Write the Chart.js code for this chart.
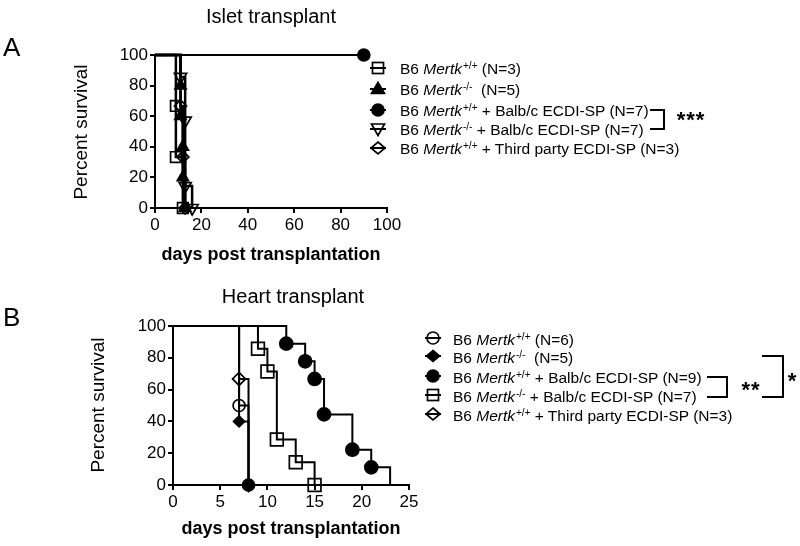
<!DOCTYPE html>
<html>
<head>
<meta charset="utf-8">
<script src="https://cdn.jsdelivr.net/npm/chart.js@4.4.1/dist/chart.umd.min.js"></script>
<style>
html,body{margin:0;padding:0;background:#fff;}
body{width:800px;height:546px;position:relative;overflow:hidden;font-family:"Liberation Sans",Arial,Helvetica,sans-serif;color:#000;}
.t{position:absolute;white-space:nowrap;}
canvas{position:absolute;}
sup.s{font-size:10px;vertical-align:0;position:relative;top:-5px;margin-left:1px;}
#ov{position:absolute;left:0;top:0;}
</style>
</head>
<body>
<canvas id="chartA" width="420" height="245" style="left:0;top:0"></canvas>
<canvas id="chartB" width="440" height="240" style="left:0;top:280px"></canvas>
<svg id="ov" width="800" height="546"></svg>
<div id="texts"></div>
<script>
// ---------- DATA ----------
const survTicks = [0, 20, 40, 60, 80, 100];
const isletDayTicks = [0, 20, 40, 60, 80, 100];
const heartDayTicks = [0, 5, 10, 15, 20, 25];

// Islet transplant (days, percent survival)
const isletWTDays = [0, 9, 9, 12];
const isletWTSurv = [100, 66.7, 33.3, 0];
const isletKODays = [0, 11, 11, 12, 12, 13];
const isletKOSurv = [100, 80, 60, 40, 20, 0];
const isletWTBalbDays = [0, 90];
const isletWTBalbSurv = [100, 100];
const isletKOBalbDays = [0, 11, 13, 13, 16];
const isletKOBalbSurv = [100, 85.7, 57.1, 14.3, 0];
const isletThirdDays = [0, 11, 12, 13];
const isletThirdSurv = [100, 66.7, 33.3, 0];

// Heart transplant
const heartWTDays = [0, 7, 8];
const heartWTSurv = [100, 50, 0];
const heartKODays = [0, 7, 8];
const heartKOSurv = [100, 40, 0];
const heartWTBalbDays = [0, 12, 14, 15, 16, 19, 21, 23];
const heartWTBalbSurv = [100, 88.9, 77.8, 66.7, 44.4, 22.2, 11.1, 0];
const heartKOBalbDays = [0, 9, 10, 11, 13, 15];
const heartKOBalbSurv = [100, 85.7, 71.4, 28.6, 14.3, 0];
const heartThirdDays = [0, 7, 8];
const heartThirdSurv = [100, 66.7, 0];

// ---------- CHARTS ----------
const FONT = '"Liberation Sans", Arial, Helvetica, sans-serif';
Chart.defaults.font.family = FONT;

function series(days, surv, st) {
  return {
    data: days.map((d, i) => ({x: d, y: surv[i]})),
    stepped: 'before',
    borderColor: '#000',
    borderWidth: st.lw || 2,
    fill: false,
    clip: false,
    pointStyle: st.style,
    rotation: st.rot || 0,
    pointRadius: days.map((d, i) => (i === 0 || (st.hideLast && i === days.length - 1)) ? 0 : st.r),
    pointHoverRadius: days.map((d, i) => (i === 0 || (st.hideLast && i === days.length - 1)) ? 0 : st.r),
    pointBackgroundColor: st.filled ? '#000' : 'rgba(0,0,0,0)',
    pointBorderColor: '#000',
    pointBorderWidth: 1.7
  };
}

function axis(min, max, tickArr, fitKey, fitVal, pad) {
  return {
    type: 'linear', min: min, max: max,
    afterBuildTicks: s => { s.ticks = tickArr.map(v => ({value: v})); },
    ticks: {color: '#000', font: {size: 17, family: FONT}, padding: pad, autoSkip: false, maxRotation: 0, minRotation: 0},
    grid: {display: true, drawOnChartArea: false, drawTicks: true, tickLength: 5, tickWidth: 2, tickColor: '#000', color: '#000', lineWidth: 2},
    border: {display: true, color: '#000', width: 2},
    afterFit: s => { s[fitKey] = fitVal; }
  };
}

function makeChart(id, datasets, xTicks, xMax, yWidth, xHeight, padTop, padRight) {
  return new Chart(document.getElementById(id), {
    type: 'line',
    data: {datasets: datasets},
    options: {
      responsive: false, animation: false, devicePixelRatio: 1,
      layout: {padding: {top: padTop, right: padRight, bottom: 0, left: 0}},
      plugins: {legend: {display: false}, tooltip: {enabled: false}},
      events: [],
      scales: {
        x: axis(0, xMax, xTicks, 'height', xHeight, 2),
        y: axis(0, 100, survTicks, 'width', yWidth, 2)
      }
    }
  });
}

makeChart('chartA', [
  series(isletWTDays, isletWTSurv, {style: 'rect', r: 7.5, lw: 2.5}),
  series(isletKODays, isletKOSurv, {style: 'triangle', r: 6.5, filled: true, lw: 2.5}),
  series(isletWTBalbDays, isletWTBalbSurv, {style: 'circle', r: 6, filled: true}),
  series(isletKOBalbDays, isletKOBalbSurv, {style: 'triangle', r: 7, rot: 180, lw: 2.5}),
  series(isletThirdDays, isletThirdSurv, {style: 'rectRot', r: 6, lw: 2.5})
], isletDayTicks, 100, 155, 37, 55, 33);

makeChart('chartB', [
  series(heartWTDays, heartWTSurv, {style: 'circle', r: 6}),
  series(heartKODays, heartKOSurv, {style: 'rectRot', r: 5.5, filled: true}),
  series(heartWTBalbDays, heartWTBalbSurv, {style: 'circle', r: 6.5, filled: true, hideLast: true}),
  series(heartKOBalbDays, heartKOBalbSurv, {style: 'rect', r: 9}),
  series(heartThirdDays, heartThirdSurv, {style: 'rectRot', r: 6.5})
], heartDayTicks, 25, 173, 35, 46, 31);

// ---------- TEXT ----------
const texts = document.getElementById('texts');
function txt(html, cx, cy, size, opts) {
  opts = opts || {};
  const d = document.createElement('div');
  d.className = 't';
  d.innerHTML = html;
  d.style.fontSize = size + 'px';
  d.style.lineHeight = size + 'px';
  if (opts.bold) d.style.fontWeight = 'bold';
  if (opts.ls) d.style.letterSpacing = opts.ls + 'px';
  d.style.left = cx + 'px';
  d.style.top = cy + 'px';
  let tr = opts.left ? 'translate(0,-50%)' : 'translate(-50%,-50%)';
  if (opts.rot) tr += ' rotate(-90deg)';
  d.style.transform = tr;
  texts.appendChild(d);
}
txt('A', 3, 47, 26, {left: true});
txt('B', 3, 317, 26, {left: true});
txt('Islet transplant', 271, 16, 20);
txt('Heart transplant', 293, 296, 20);
txt('Percent survival', 80, 132, 19, {rot: true});
txt('Percent survival', 97, 405, 19, {rot: true});
txt('days post transplantation', 271, 254, 18, {bold: true});
txt('days post transplantation', 291, 528, 18, {bold: true});

const WT = 'B6 <i>Mertk</i><sup class="s">+/+</sup>';
const KO = 'B6 <i>Mertk</i><sup class="s">-/-</sup>';
const legA = [WT + ' (N=3)', KO + '&nbsp; (N=5)', WT + ' + Balb/c ECDI-SP (N=7)', KO + ' + Balb/c ECDI-SP (N=7)', WT + ' + Third party ECDI-SP (N=3)'];
const legARows = [69, 90, 111, 130, 149];
const legB = [WT + ' (N=6)', KO + '&nbsp; (N=5)', WT + ' + Balb/c ECDI-SP (N=9)', KO + ' + Balb/c ECDI-SP (N=7)', WT + ' + Third party ECDI-SP (N=3)'];
const legBRows = [340, 358, 378, 397, 416];
legA.forEach((h, i) => txt(h, 400, legARows[i] + 1, 15.5, {left: true}));
legB.forEach((h, i) => txt(h, 453, legBRows[i] + 1, 15.5, {left: true}));

txt('***', 691, 120, 22, {bold: true, ls: 1});
txt('**', 751, 390, 22, {bold: true, ls: 1});
txt('*', 792, 381, 22, {bold: true});

// ---------- LEGEND SYMBOLS & BRACKETS ----------
const ov = document.getElementById('ov');
let svg = '';
function sym(kind, cx, cy) {
  let s = `<line x1="${cx - 8}" y1="${cy}" x2="${cx + 8}" y2="${cy}" stroke="#000" stroke-width="2"/>`;
  const st = 'stroke="#000" stroke-width="1.7"';
  if (kind === 'osq') s += `<rect x="${cx - 5.5}" y="${cy - 5.5}" width="11" height="11" fill="none" ${st}/>`;
  if (kind === 'ftri') s += `<polygon points="${cx},${cy - 6.5} ${cx + 6.5},${cy + 4.5} ${cx - 6.5},${cy + 4.5}" fill="#000" ${st}/>`;
  if (kind === 'fcir') s += `<circle cx="${cx}" cy="${cy}" r="6" fill="#000" ${st}/>`;
  if (kind === 'ocir') s += `<circle cx="${cx}" cy="${cy}" r="6" fill="none" ${st}/>`;
  if (kind === 'otri') s += `<polygon points="${cx - 6.5},${cy - 5} ${cx + 6.5},${cy - 5} ${cx},${cy + 6.5}" fill="none" ${st}/>`;
  if (kind === 'odia') s += `<polygon points="${cx},${cy - 6} ${cx + 7},${cy} ${cx},${cy + 6} ${cx - 7},${cy}" fill="none" ${st}/>`;
  if (kind === 'fdia') s += `<polygon points="${cx},${cy - 5.5} ${cx + 6.5},${cy} ${cx},${cy + 5.5} ${cx - 6.5},${cy}" fill="#000" ${st}/>`;
  return s;
}
['osq', 'ftri', 'fcir', 'otri', 'odia'].forEach((k, i) => svg += sym(k, 378, legARows[i] - 1));
['ocir', 'fdia', 'fcir', 'osq', 'odia'].forEach((k, i) => svg += sym(k, 433, legBRows[i] - 2));
function bracket(x1, x2, y1, y2) {
  return `<polyline points="${x1},${y1} ${x2},${y1} ${x2},${y2} ${x1},${y2}" fill="none" stroke="#000" stroke-width="2"/>`;
}
svg += bracket(650, 664, 110, 129);
svg += bracket(707, 727, 377, 397);
svg += bracket(762, 783, 356, 397);
ov.innerHTML = svg;
</script>
</body>
</html>
